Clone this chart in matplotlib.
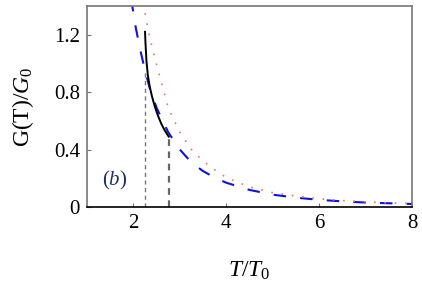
import matplotlib
matplotlib.use("Agg")
import matplotlib.pyplot as plt

# Blue dashed curve
blue_T = [1.90, 1.96, 2.05, 2.15, 2.25, 2.35, 2.5, 2.75, 3.0, 3.25, 3.5, 3.75, 4.0, 4.5, 5.0, 5.5, 6.0, 6.5, 7.0, 7.5, 8.0]
blue_G = [1.57, 1.43, 1.25, 1.09, 0.95, 0.83, 0.69, 0.52, 0.40, 0.31, 0.25, 0.205, 0.169, 0.119, 0.086, 0.065, 0.050, 0.039, 0.031, 0.026, 0.021]
# Red dotted curve
red_T = [2.25, 2.35, 2.5, 2.75, 3.0, 3.25, 3.5, 3.75, 4.0, 4.5, 5.0, 5.5, 6.0, 6.5, 7.0, 7.5, 8.0]
red_G = [1.35, 1.18, 0.99, 0.69, 0.52, 0.40, 0.32, 0.26, 0.205, 0.14, 0.10, 0.076, 0.057, 0.045, 0.036, 0.029, 0.024]
# Black solid curve
black_T = [2.25, 2.26, 2.28, 2.31, 2.35, 2.40, 2.46, 2.53, 2.60, 2.68, 2.76]
black_G = [1.22, 1.14, 1.02, 0.92, 0.84, 0.77, 0.70, 0.635, 0.58, 0.53, 0.49]
# Vertical markers
vline_T = [2.25, 2.76]
vline_top = [0.93, 0.49]

plt.rcParams['font.family'] = 'serif'
plt.rcParams['font.serif'] = ['Liberation Serif', 'DejaVu Serif']
plt.rcParams['mathtext.fontset'] = 'custom'
plt.rcParams['mathtext.rm'] = 'Liberation Serif'
plt.rcParams['mathtext.it'] = 'Liberation Serif:italic'

fig = plt.figure(figsize=(4.22, 2.86), dpi=100)
ax = fig.add_axes([87/422, 1-207/286, (412-87)/422, (207-6)/286])

ax.plot(blue_T, blue_G, color='#1010e0', lw=1.5, dashes=(6.0, 6.8))
ax.plot(red_T, red_G, color='#f07070', lw=1.2, dashes=(1, 5.2))
ax.plot(black_T, black_G, color='black', lw=1.4)
ax.vlines(vline_T[0], 0, vline_top[0], colors='#777777', lw=1.0, linestyles=(0, (3, 2.5)))
ax.vlines(vline_T[1], 0, vline_top[1], colors='#666666', lw=1.6, linestyles=(0, (3, 2.5)))

ax.set_xlim(1, 8)
ax.set_ylim(0, 1.4)
ax.set_xticks([2, 4, 6, 8])
ax.set_xticklabels(['2', '4', '6', '8'])
ax.set_yticks([0, 0.4, 0.8, 1.2])
ax.set_yticklabels(['0', '0.4', '0.8', '1.2'])
ax.tick_params(direction='in', length=3, color='#777777', labelsize=15, pad=5)
for s in ['top', 'right', 'left']:
    ax.spines[s].set_color('#777777')
ax.spines['bottom'].set_color('black')
for s in ax.spines.values():
    s.set_linewidth(1.2)

ax.text(1.33, 0.15, r'$(b)$', fontsize=15, color='#1a2f5f')
ax.set_ylabel(r'G(T)/$G_0$', fontsize=17, labelpad=13)
ax.set_xlabel(r'$T/T_0$', fontsize=17, labelpad=19)

fig.savefig('out.png', dpi=100)
